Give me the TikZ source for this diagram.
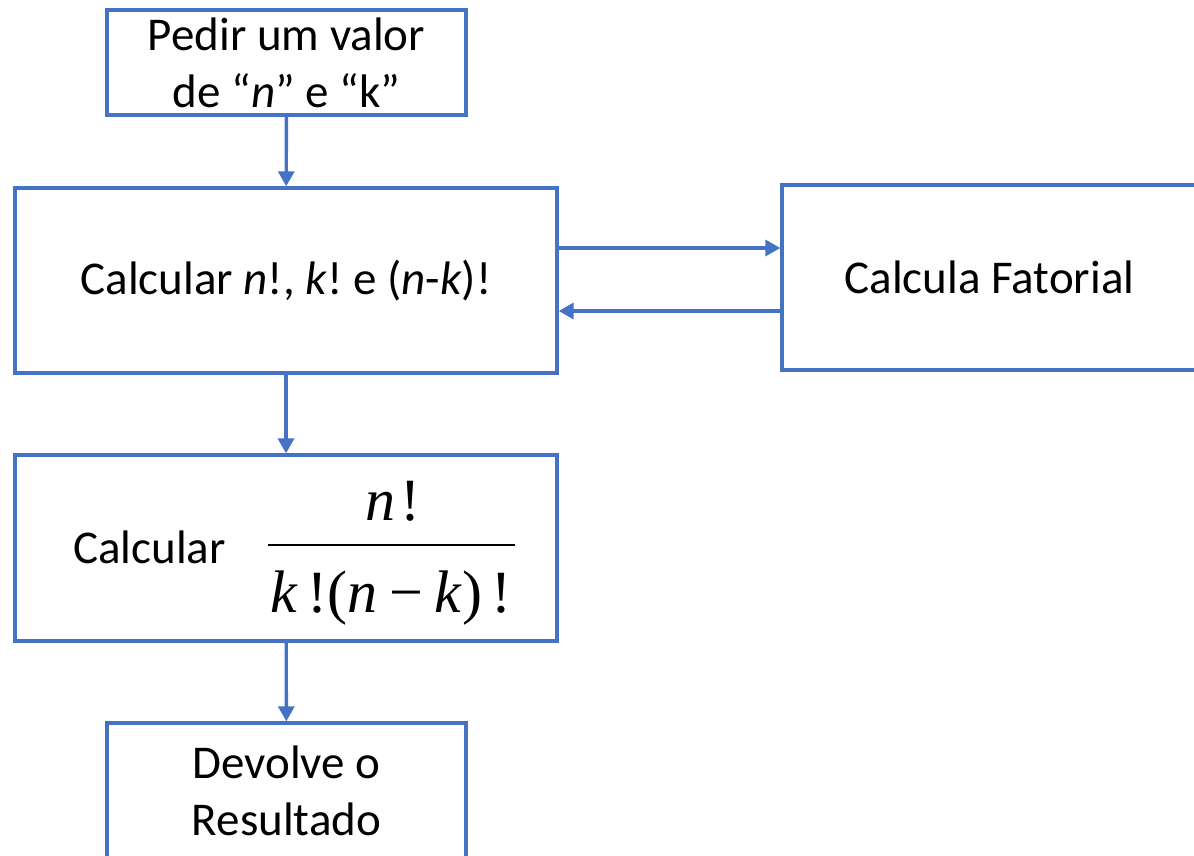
\documentclass[tikz,border=0pt]{standalone}
\usepackage{fontspec}
\setmainfont{Carlito}
\newfontfamily\tnr{Liberation Serif}
\usetikzlibrary{arrows.meta}
\definecolor{boxblue}{HTML}{4472C4}
\frenchspacing
\begin{document}
\begin{tikzpicture}[x=1pt,y=-1pt,
  box/.style={draw=boxblue,line width=3.4pt,inner sep=0pt,align=center,font=\fontsize{47}{57}\selectfont},
  lbl/.style={inner sep=0pt,font=\fontsize{47}{57}\selectfont},
  frac/.style={inner sep=0pt,font=\tnr\fontsize{60}{70}\selectfont},
  conn/.style={draw=boxblue,line width=3.4pt,-{Triangle[length=15pt,width=16pt]}}]
\useasboundingbox (0,0) rectangle (1194,855);
\node[box,minimum width=359pt,minimum height=105pt] (top) at (286.5,62.5) {Pedir um valor\\de “\textit{n}” e “k”};
\node[box,minimum width=542pt,minimum height=185pt] (calc1) at (286,280.5) {Calcular \textit{n}!, \textit{k}! e (\textit{n}-\textit{k})!};
\node[box,minimum width=415pt,minimum height=185pt] (fat) at (989.5,277.5) {Calcula Fatorial};
\node[box,minimum width=542pt,minimum height=186pt] (calc2) at (286,548) {};
\node[box,minimum width=359pt,minimum height=136pt] (res) at (286.5,791) {Devolve o\\Resultado};
\node[lbl,anchor=base west] (calclbl) at (73,563) {Calcular};
\node[frac,anchor=base] (num) at (393,520) {\textit{n}\kern5pt!};
\node[frac,anchor=base] (den) at (391,612) {\textit{k}\kern9pt!(\textit{n}\kern12pt−\kern12pt\textit{k})\kern9pt!};
\coordinate (barl) at (268,545);
\coordinate (barr) at (515,545);
\draw[line width=2.8pt] (barl) -- (barr);
\draw[conn] (top) -- (calc1);
\draw[conn] (calc1) -- (calc2);
\draw[conn] (calc2) -- (res);
\draw[conn] ([yshift=32.5pt]calc1.east) -- ([yshift=32.5pt]calc1.east -| fat.west);
\draw[conn] ([yshift=-30.5pt]calc1.east -| fat.west) -- ([yshift=-30.5pt]calc1.east);
\end{tikzpicture}
\end{document}
